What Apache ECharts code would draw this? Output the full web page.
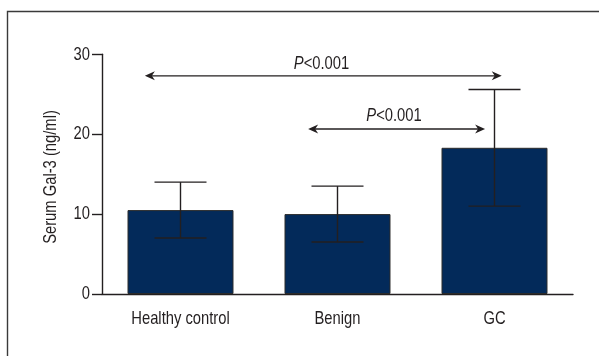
<!DOCTYPE html>
<html>
<head>
<meta charset="utf-8">
<script src="https://cdn.jsdelivr.net/npm/echarts@6/dist/echarts.min.js"></script>
<style>
  html, body { margin: 0; padding: 0; background: #fff; }
  #chart { width: 599px; height: 356px; }
</style>
</head>
<body>
<div id="chart"></div>
<script>
// Serum Gal-3 by group: mean with SD error bars
var categories = ['Healthy control', 'Benign', 'GC'];
var means = [10.5, 10.0, 18.3];
var errLow = [7.0, 6.5, 11.0];
var errHigh = [14.0, 13.5, 25.6];
var yTicks = [0, 10, 20, 30];
var yTitle = 'Serum Gal-3 (ng/ml)';

// Significance brackets: [x start, x end, y] in category-index units
var brackets = [
  [-0.227, 2.046, 27.3],
  [0.813, 1.94, 20.65]
];
// Bracket labels: [x, y, italic part, rest]
var pLabels = [
  [0.898, 28.85, 'P', '<0.001'],
  [1.36, 22.3, 'P', '<0.001']
];

// Condensed look: regular sans squeezed horizontally
var FONT = "'Liberation Sans', Arial, sans-serif";
var FS = 19;
var SQ = 0.777;
var INK = '#231f20';

var chart = echarts.init(document.getElementById('chart'));

function arrowHead(tip, dir) {
  // dir: +1 points right, -1 points left
  var L = 10, H = 4.5, N = 3;
  return {
    type: 'polygon',
    shape: { points: [
      [tip[0], tip[1]],
      [tip[0] - dir * L, tip[1] - H],
      [tip[0] - dir * (L - N), tip[1]],
      [tip[0] - dir * L, tip[1] + H]
    ] },
    style: { fill: INK }
  };
}

function squeezedText(x, y, text, align, vAlign, extra) {
  var el = {
    type: 'text',
    x: x, y: y,
    scaleX: SQ,
    style: {
      text: text,
      fontFamily: FONT, fontSize: FS, fill: INK,
      align: align, verticalAlign: vAlign
    }
  };
  if (extra) { for (var k in extra) { el.style[k] = extra[k]; } }
  return el;
}

var option = {
  animation: false,
  backgroundColor: '#fff',
  grid: { left: 102, right: 26, top: 54.3, bottom: 62, containLabel: false },
  graphic: [{
    type: 'rect',
    shape: { x: 7.5, y: 11.5, width: 800, height: 600 },
    style: { fill: 'none', stroke: '#3a3a3a', lineWidth: 1.4 },
    silent: true
  }, {
    type: 'text',
    x: 51, y: 177,
    rotation: Math.PI / 2,
    scaleX: SQ,
    style: {
      text: yTitle, fontFamily: FONT, fontSize: FS, fill: INK,
      align: 'center', verticalAlign: 'middle'
    },
    silent: true
  }],
  xAxis: [{
    type: 'category',
    data: categories,
    axisLine: { lineStyle: { color: INK, width: 1.4 } },
    axisTick: { alignWithLabel: true, length: 10, lineStyle: { color: INK, width: 1.4 } },
    axisLabel: { show: false }
  }, {
    type: 'value', min: -0.5, max: 2.5, show: false
  }],
  yAxis: {
    type: 'value',
    min: yTicks[0], max: yTicks[yTicks.length - 1], interval: 10,
    axisLine: { show: true, onZero: false, lineStyle: { color: INK, width: 1.4 } },
    axisTick: { show: true, length: 10, lineStyle: { color: INK, width: 1.4 } },
    axisLabel: { show: false },
    splitLine: { show: false }
  },
  series: [{
    type: 'bar',
    data: means,
    barWidth: '67.5%',
    itemStyle: { color: '#032a5a', borderColor: '#2b2b2b', borderWidth: 1 }
  }, {
    // error bars
    type: 'custom',
    xAxisIndex: 0,
    data: means.map(function (m, i) { return [i, errLow[i], errHigh[i]]; }),
    z: 10,
    renderItem: function (params, api) {
      var i = api.value(0);
      var lo = api.coord([i, api.value(1)]);
      var hi = api.coord([i, api.value(2)]);
      var half = 26;
      var st = { stroke: INK, lineWidth: 1.4 };
      return { type: 'group', children: [
        { type: 'line', shape: { x1: hi[0], y1: hi[1], x2: lo[0], y2: lo[1] }, style: st },
        { type: 'line', shape: { x1: hi[0] - half, y1: hi[1], x2: hi[0] + half, y2: hi[1] }, style: st },
        { type: 'line', shape: { x1: lo[0] - half, y1: lo[1], x2: lo[0] + half, y2: lo[1] }, style: st }
      ] };
    }
  }, {
    // category labels under the x axis
    type: 'custom',
    xAxisIndex: 0,
    data: categories.map(function (c, i) { return [i, 0]; }),
    renderItem: function (params, api) {
      var p = api.coord([api.value(0), 0]);
      return squeezedText(p[0], p[1] + 25, categories[params.dataIndex], 'center', 'middle');
    }
  }, {
    // y tick labels
    type: 'custom',
    xAxisIndex: 1,
    data: yTicks.map(function (t) { return [-0.5, t]; }),
    renderItem: function (params, api) {
      var p = api.coord([-0.5, api.value(1)]);
      return squeezedText(p[0] - 12, p[1], String(yTicks[params.dataIndex]), 'right', 'middle');
    }
  }, {
    // significance arrows
    type: 'custom',
    xAxisIndex: 1,
    data: brackets,
    z: 10,
    renderItem: function (params, api) {
      var a = api.coord([api.value(0), api.value(2)]);
      var b = api.coord([api.value(1), api.value(2)]);
      return { type: 'group', children: [
        { type: 'line', shape: { x1: a[0] + 6, y1: a[1], x2: b[0] - 6, y2: b[1] }, style: { stroke: INK, lineWidth: 1.4 } },
        arrowHead(a, -1),
        arrowHead(b, 1)
      ] };
    }
  }, {
    // P-value labels
    type: 'custom',
    xAxisIndex: 1,
    data: pLabels,
    z: 10,
    renderItem: function (params, api) {
      var p = api.coord([api.value(0), api.value(1)]);
      var d = pLabels[params.dataIndex];
      return squeezedText(p[0], p[1], '{i|' + d[2] + '}{n|' + d[3] + '}', 'center', 'middle', {
        rich: {
          i: { fontFamily: FONT, fontSize: FS, fontStyle: 'italic', fill: INK },
          n: { fontFamily: FONT, fontSize: FS, fill: INK }
        }
      });
    }
  }]
};

chart.setOption(option);
</script>
</body>
</html>
